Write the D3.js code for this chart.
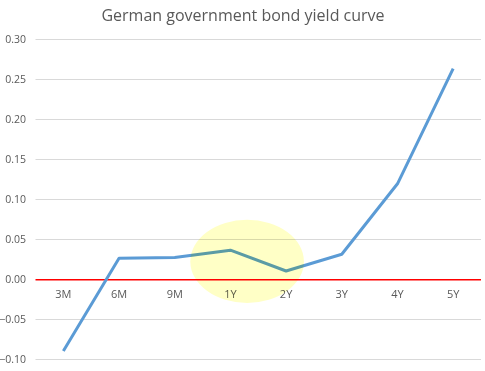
<!doctype html>
<html>
<head>
    <meta charset="UTF-8">
    <script src="https://d3js.org/d3.v7.min.js"></script>
    <style>
        body { margin: 0; background: #fff; }
        text { font-family: "Open Sans", "Liberation Sans", sans-serif; fill: #595959; }
    </style>
</head>
<body>
    <svg width="485" height="371"></svg>
    <script>
        var maturities = ["3M", "6M", "9M", "1Y", "2Y", "3Y", "4Y", "5Y"];
        var yields = [-0.090, 0.026, 0.027, 0.036, 0.010, 0.031, 0.119, 0.263];
        var yTicks = [-0.10, -0.05, 0.00, 0.05, 0.10, 0.15, 0.20, 0.25, 0.30];
        // highlighted area around 1Y-2Y, in data units (index position, yield)
        var highlight = { cx: 3.3, cy: 0.022, rx: 1.02, ry: 0.052 };

        var svg = d3.select("svg");
        var pLeft = 35.5, pRight = 481, pTop = 39, pBottom = 359;

        var x = d3.scalePoint().domain(maturities).range([pLeft, pRight]).padding(0.5);
        var xi = d3.scaleLinear().domain([0, maturities.length - 1]).range([x(maturities[0]), x(maturities[maturities.length - 1])]);
        var y = d3.scaleLinear().domain([-0.10, 0.30]).range([pBottom, pTop]);

        svg.append("text")
            .attr("x", 243)
            .attr("y", 21)
            .attr("text-anchor", "middle")
            .attr("font-size", 16)
            .text("German government bond yield curve");

        svg.selectAll("line.grid")
            .data(yTicks.filter(function (d) { return d !== 0; }))
            .enter().append("line")
            .attr("class", "grid")
            .attr("x1", pLeft).attr("x2", pRight)
            .attr("y1", function (d) { return Math.round(y(d)) + 0.5; })
            .attr("y2", function (d) { return Math.round(y(d)) + 0.5; })
            .attr("stroke", "#d9d9d9");

        svg.selectAll("text.ylab")
            .data(yTicks)
            .enter().append("text")
            .attr("class", "ylab")
            .attr("x", 26)
            .attr("y", function (d) { return y(d) + 4; })
            .attr("text-anchor", "end")
            .attr("font-size", 10.5)
            .text(function (d) { return d3.format(".2f")(d); });

        // zero line
        svg.append("rect")
            .attr("x", pLeft).attr("width", pRight - pLeft)
            .attr("y", Math.round(y(0))).attr("height", 1.5)
            .attr("fill", "#ff0000");

        svg.selectAll("text.xlab")
            .data(maturities)
            .enter().append("text")
            .attr("class", "xlab")
            .attr("x", function (d) { return x(d); })
            .attr("y", y(0) + 19)
            .attr("text-anchor", "middle")
            .attr("font-size", 11)
            .text(function (d) { return d; });

        var line = d3.line()
            .x(function (d, i) { return x(maturities[i]); })
            .y(function (d) { return y(d); });

        svg.append("path")
            .datum(yields)
            .attr("d", line)
            .attr("fill", "none")
            .attr("stroke", "#5b9bd5")
            .attr("stroke-width", 3)
            .attr("stroke-linejoin", "round");

        svg.append("ellipse")
            .attr("cx", xi(highlight.cx))
            .attr("cy", y(highlight.cy))
            .attr("rx", xi(highlight.rx) - xi(0))
            .attr("ry", y(0) - y(highlight.ry))
            .attr("fill", "#ffffc6")
            .style("mix-blend-mode", "multiply");
    </script>
</body>
</html>
